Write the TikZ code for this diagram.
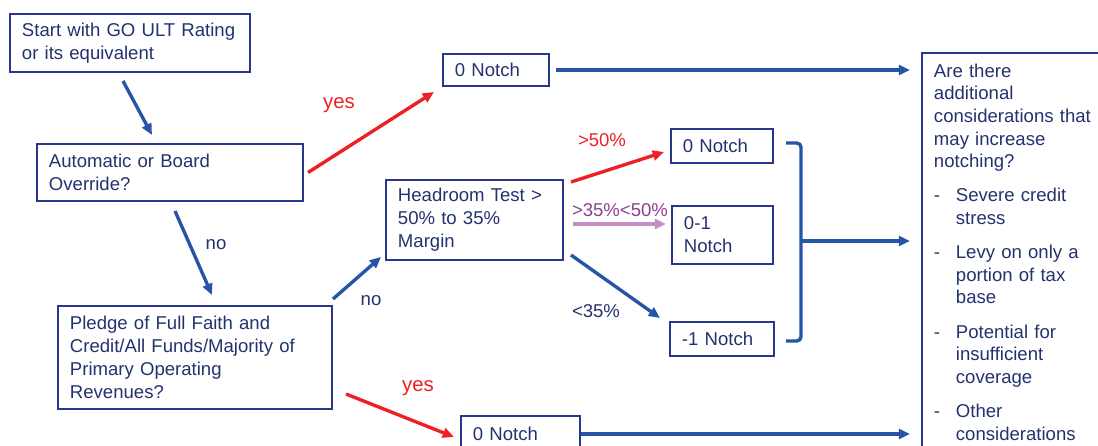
\documentclass[tikz,border=0pt]{standalone}
\usepackage{fontspec}
\setmainfont{Liberation Sans}
\usetikzlibrary{arrows.meta}

\definecolor{boxblue}{RGB}{40,55,140}
\definecolor{txtblue}{RGB}{35,50,110}
\definecolor{arrblue}{RGB}{38,84,166}
\definecolor{arrred}{RGB}{237,32,36}
\definecolor{arrpink}{RGB}{196,142,196}
\definecolor{lblpurple}{RGB}{140,65,140}

\newcommand\rdash{\makebox[15.6pt][l]{-}}
\newcommand\rind{\hspace*{15.6pt}}

\tikzset{
  every node/.style={font=\fontsize{13.2}{16.3}\selectfont},
  box/.style={draw=boxblue, line width=1.4pt, rectangle, align=left,
              inner xsep=0.3cm, inner ysep=0pt, text=txtblue},
  arr/.style={-{Triangle[length=8pt,width=7pt]}, line width=2.4pt, arrblue},
  lbl/.style={inner sep=0pt}
}

\begin{document}
\begin{tikzpicture}[x=0.025cm, y=-0.025cm]
  \clip (0,0) rectangle (1098,446);

  % left column
  \node[box, text width=5.4cm, minimum height=1.45cm] (start) at (130,43)
        {Start with GO ULT Rating\\or its equivalent};
  \node[box, text width=6.05cm, minimum height=1.425cm] (auto) at (170,172.5)
        {Automatic or Board\\Override?};
  \node[box, text width=6.25cm, minimum height=2.575cm] (pledge) at (195,357.5)
        {Pledge of Full Faith and\\Credit/All Funds/Majority of\\Primary Operating\\Revenues?};

  % middle column
  \node[box, text width=2.05cm, minimum height=0.8cm] (top0) at (496,70) {0 Notch};
  \node[box, text width=3.825cm, minimum height=2cm] (head) at (474.5,220)
        {Headroom Test >\\50\% to 35\%\\Margin};
  \node[box, text width=2.375cm, minimum height=0.9cm] (bot0) at (520.5,434) {0 Notch};

  % notch results
  \node[box, text width=1.95cm, minimum height=0.85cm] (mid0) at (722,146) {0 Notch};
  \node[box, text width=1.925cm, minimum height=1.45cm] (n01) at (722.5,235) {0-1\\Notch};
  \node[box, text width=2cm, minimum height=0.85cm] (m1) at (722,339) {-1 Notch};

  % right box
  \node[box, anchor=north west, text width=4.1cm, inner ysep=0.27cm,
        text depth=10.5cm, font=\fontsize{13.2}{16.1}\selectfont] (rbox) at (921,52)
        {Are there\\additional\\considerations that\\may increase\\notching?\\[8pt]
         \rdash Severe credit\\\rind stress\\[8.3pt]
         \rdash Levy on only a\\\rind portion of tax\\\rind base\\[8.3pt]
         \rdash Potential for\\\rind insufficient\\\rind coverage\\[8.3pt]
         \rdash Other\\\rind considerations};

  % labels
  \node[lbl, text=arrred, font=\fontsize{14.5}{16}\selectfont] (yes1) at (339,105) {yes};
  \node[lbl, text=txtblue] (no1) at (216,245) {no};
  \node[lbl, text=txtblue] (no2) at (371,301) {no};
  \node[lbl, text=arrred, font=\fontsize{14.5}{16}\selectfont] (yes2) at (418,388) {yes};
  \node[lbl, text=arrred] (gt50) at (602,140) {>50\%};
  \node[lbl, text=lblpurple] (mid) at (620,210) {>35\%<50\%};
  \node[lbl, text=txtblue] (lt35) at (596,311) {<35\%};

  % connectors
  \draw[arr] ([shift={(-7,8)}]start.south) -- ([shift={(-18,-8)}]auto.north);
  \draw[arr, arrred] ([shift={(4,0)}]auto.east) -- ([shift={(-8,5)}]top0.south west);
  \draw[arr] ([shift={(5,9)}]auto.south) -- ([shift={(17,-10)}]pledge.north);
  \draw[arr] ([shift={(0,-6)}]pledge.north east) -- ([shift={(-4,-4)}]head.south west);
  \draw[arr, arrred] ([shift={(13,-16)}]pledge.south east) -- ([shift={(-6,3)}]bot0.west);

  \draw[arr, arrred] ([shift={(7,3)}]head.north east) -- ([shift={(-6,6)}]mid0.west);
  \draw[arr, arrpink] ([shift={(9,4)}]head.east) -- ([shift={(-5,-11)}]n01.west);
  \draw[arr] ([shift={(7,-6)}]head.south east) -- ([shift={(-9,-3)}]m1.north west);

  \draw[arr, shorten <=0.15cm, shorten >=0.275cm] (top0.east) -- (top0.east -| rbox.west);
  \draw[arr, shorten >=0.275cm] (bot0.east) -- (bot0.east -| rbox.west);

  % bracket
  \coordinate (brk) at (801,241);
  \draw[arrblue, line width=2.4pt, rounded corners=3pt]
        ([shift={(12,-3)}]mid0.east) -| (brk) |- ([shift={(11,2)}]m1.east);
  \draw[arr, shorten >=0.275cm] (brk) -- (brk -| rbox.west);
\end{tikzpicture}
\end{document}
